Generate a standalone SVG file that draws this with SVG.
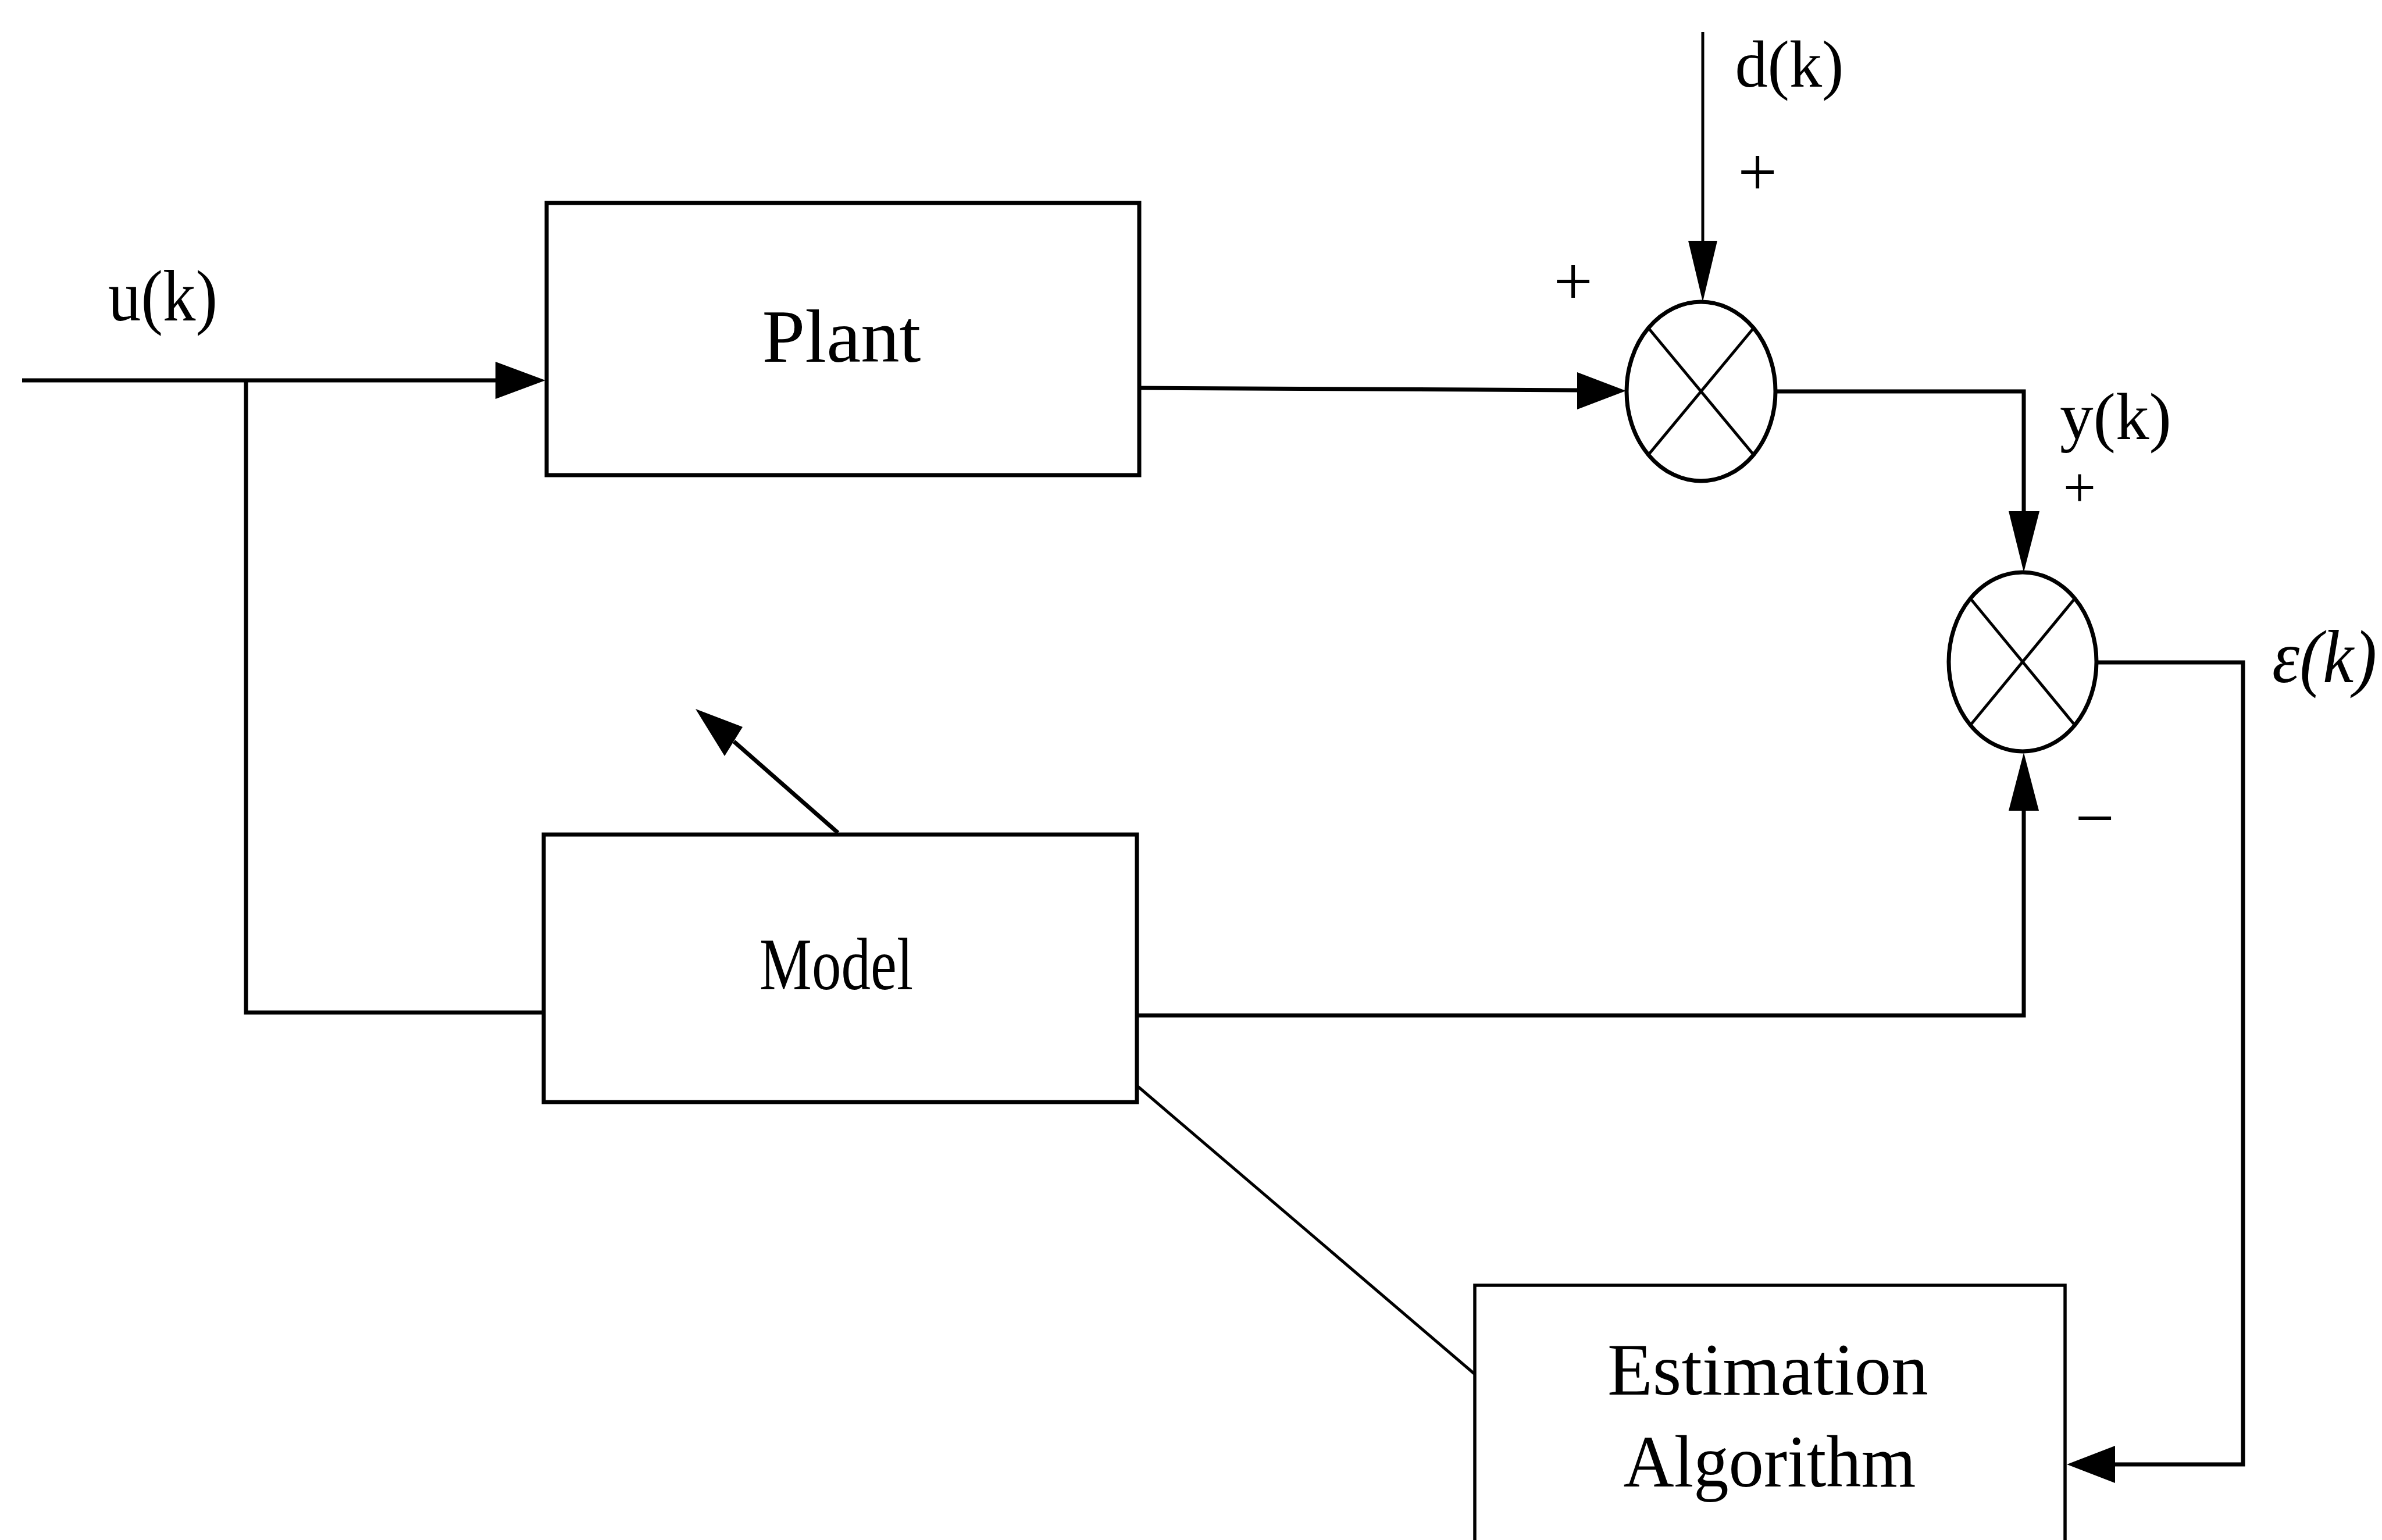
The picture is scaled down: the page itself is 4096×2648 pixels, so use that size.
<svg xmlns="http://www.w3.org/2000/svg" width="4096" height="2648" viewBox="0 0 4096 2648">
<style>
.bg{fill:#fff}
.box{fill:#fff;stroke:#000;stroke-width:7}
.boxthin{fill:#fff;stroke:#000;stroke-width:5.5}
.ln{fill:none;stroke:#000;stroke-width:7;stroke-linejoin:miter}
.thin{fill:none;stroke:#000;stroke-width:5}
.head{fill:#000;stroke:none}
.sum{fill:#fff;stroke:#000;stroke-width:7}
.lbl{font-family:"Liberation Serif","DejaVu Serif",serif;fill:#000;text-anchor:middle}
.sign{font-family:"Liberation Serif","DejaVu Serif",serif;fill:#000;text-anchor:middle;font-size:120px}
.sign.small{font-size:100px}
</style>
<rect class="bg" x="0" y="0" width="4096" height="2648"/>
<g id="connectors">
  <line class="ln" x1="38" y1="654" x2="860" y2="654"/>
  <polygon class="head" points="852,622 938,654 852,686"/>
  <polyline class="ln" points="423,654 423,1741 935,1741"/>
  <line class="ln" x1="1959" y1="667" x2="2716" y2="671"/>
  <polygon class="head" points="2712,640 2796,672 2712,704"/>
  <line class="thin" x1="2928" y1="55" x2="2928" y2="420"/>
  <polygon class="head" points="2903,414 2953,414 2928,519"/>
  <polyline class="ln" points="3053,673 3480,673 3480,885"/>
  <polygon class="head" points="3454,879 3507,879 3480,984"/>
  <polyline class="ln" points="3605,1139 3857,1139 3857,2518 3632,2518"/>
  <polygon class="head" points="3637,2486 3554,2518 3637,2550"/>
  <polyline class="ln" points="1955,1746 3480,1746 3480,1388"/>
  <polygon class="head" points="3454,1394 3506,1394 3480,1294"/>
  <line class="thin" x1="1953" y1="1865" x2="2535" y2="2362"/>
  <line class="ln" x1="1441" y1="1432" x2="1262" y2="1275"/>
  <polygon class="head" points="1196,1219 1277,1250 1246,1300"/>
</g>
<g id="plant">
  <rect class="box" x="940" y="349" width="1019" height="468"/>
  <text class="lbl" x="1447" y="622" font-size="130" textLength="273" lengthAdjust="spacingAndGlyphs">Plant</text>
</g>
<g id="model">
  <rect class="box" x="935" y="1435" width="1020" height="460"/>
  <text class="lbl" x="1438" y="1701" font-size="127" textLength="264" lengthAdjust="spacingAndGlyphs">Model</text>
</g>
<g id="estimation">
  <rect class="boxthin" x="2536" y="2210" width="1015" height="520"/>
  <text class="lbl" x="3040" y="2398" font-size="128" textLength="552" lengthAdjust="spacingAndGlyphs">Estimation</text>
  <text class="lbl" x="3043" y="2556" font-size="128" textLength="503" lengthAdjust="spacingAndGlyphs">Algorithm</text>
</g>
<g id="sum1">
  <ellipse class="sum" cx="2925" cy="673" rx="128" ry="154"/>
  <line class="thin" x1="2834.5" y1="564" x2="3015.5" y2="782"/>
  <line class="thin" x1="3015.5" y1="564" x2="2834.5" y2="782"/>
</g>
<g id="sum2">
  <ellipse class="sum" cx="3478" cy="1138" rx="127" ry="154"/>
  <line class="thin" x1="3388.5" y1="1029.5" x2="3567.5" y2="1246.5"/>
  <line class="thin" x1="3567.5" y1="1029.5" x2="3388.5" y2="1246.5"/>
</g>
<g id="labels">
  <text class="lbl" x="280" y="551" font-size="125" textLength="188" lengthAdjust="spacingAndGlyphs">u(k)</text>
  <text class="lbl" x="3077" y="149" font-size="115" textLength="187" lengthAdjust="spacingAndGlyphs">d(k)</text>
  <text class="lbl" x="3638" y="755" font-size="115" textLength="192" lengthAdjust="spacingAndGlyphs">y(k)</text>
  <text class="lbl" x="3997" y="1173" font-size="130" font-style="italic" textLength="180" lengthAdjust="spacingAndGlyphs">ε(k)</text>
  <text class="sign" x="3022" y="336">+</text>
  <text class="sign" x="2705" y="524">+</text>
  <text class="sign small" x="3576" y="872">+</text>
  <text class="sign" x="3602" y="1447">−</text>
</g>
</svg>
